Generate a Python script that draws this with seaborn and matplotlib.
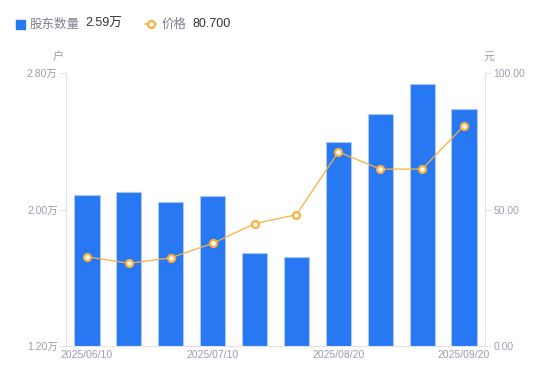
import numpy as np
import matplotlib
matplotlib.use("Agg")
import matplotlib.pyplot as plt
import seaborn as sns
import pandas as pd
from matplotlib.ticker import FuncFormatter
from matplotlib.lines import Line2D
from matplotlib.patches import Rectangle

dates = ["2025/06/10", "2025/06/20", "2025/06/30", "2025/07/10", "2025/07/20",
         "2025/07/31", "2025/08/20", "2025/08/31", "2025/09/10", "2025/09/20"]
holders = [2.087, 2.103, 2.044, 2.081, 1.743, 1.723, 2.394, 2.560, 2.734, 2.59]  # 万户
price = [32.7, 30.3, 32.3, 37.6, 44.8, 48.1, 71.1, 64.8, 64.8, 80.7]
shown_ticks = ["2025/06/10", "2025/07/10", "2025/08/20", "2025/09/20"]

sns.set_style("white")
plt.rcParams['font.family'] = ['Liberation Sans', 'Noto Sans CJK SC']

BLUE = "#2778F2"
ORANGE = "#F9B13C"
GRAY = "#9D9DAD"
AXIS = "#E3E3E8"
CJK = ['Noto Sans CJK SC', 'DejaVu Sans']

df = pd.DataFrame({"date": dates, "holders": holders, "price": price})

fig = plt.figure(figsize=(5.5, 3.81), dpi=100)
ax = fig.add_axes([66 / 550, 35 / 381, 419 / 550, 273 / 381])

sns.barplot(data=df, x="date", y="holders", color=BLUE, width=0.6,
            edgecolor="#A9C8F8", linewidth=0.8, saturation=1, ax=ax)
ax.set_ylim(1.2, 2.8)
ax.set_yticks([1.2, 2.0, 2.8])
ax.yaxis.set_major_formatter(FuncFormatter(lambda v, p: f"{v:.2f}万"))
ax.set_xticks([dates.index(d) for d in shown_ticks])
ax.set_xticklabels(shown_ticks)
ax.set_xlabel("")
ax.set_ylabel("")

ax2 = ax.twinx()
sns.lineplot(x=np.arange(len(price)), y=price, color=ORANGE, linewidth=0.9,
             marker="o", markersize=5, markerfacecolor="white",
             markeredgecolor=ORANGE, markeredgewidth=1.6, ax=ax2)
ax2.set_ylim(0, 100)
ax2.set_yticks([0, 50, 100])
ax2.yaxis.set_major_formatter(FuncFormatter(lambda v, p: f"{v:.2f}"))
ax.set_xlim(-0.5, len(dates) - 0.5)

for a in (ax, ax2):
    for s in a.spines.values():
        s.set_visible(False)
    a.tick_params(colors=GRAY, labelsize=7.5, length=0)
ax.spines["left"].set_visible(True)
ax.spines["left"].set_color(AXIS)
ax.spines["bottom"].set_visible(True)
ax.spines["bottom"].set_color(AXIS)
ax2.spines["right"].set_visible(True)
ax2.spines["right"].set_color(AXIS)
ax.tick_params(axis="y", length=4, color=AXIS, pad=2)
ax2.tick_params(axis="y", length=4, color=AXIS, pad=2)
ax.tick_params(axis="x", pad=3)

fig.text(58 / 550, 1 - 57 / 381, "户", color=GRAY, fontsize=8, ha="center",
         va="center", family=CJK)
fig.text(489 / 550, 1 - 57 / 381, "元", color=GRAY, fontsize=8, ha="center",
         va="center", family=CJK)

# legend
ly = 1 - 24 / 381
fig.add_artist(Rectangle((16 / 550, ly - 4.5 / 381), 9 / 550, 9 / 381,
                         transform=fig.transFigure, color=BLUE))
fig.text(30 / 550, ly, "股东数量", color="#7F7F8F", fontsize=9, va="center", family=CJK)
fig.text(85 / 550, ly, "2.59万", color="#333333", fontsize=9, va="center")
fig.add_artist(Line2D([145 / 550, 156 / 550], [ly, ly], transform=fig.transFigure,
                      color=ORANGE, linewidth=1.2))
fig.add_artist(Line2D([150.5 / 550], [ly], transform=fig.transFigure,
                      color=ORANGE, marker="o", markersize=5,
                      markerfacecolor="white", markeredgewidth=1.6))
fig.text(162 / 550, ly, "价格", color="#7F7F8F", fontsize=9, va="center", family=CJK)
fig.text(192 / 550, ly, "80.700", color="#333333", fontsize=9, va="center")

fig.savefig("out.png", dpi=100)
